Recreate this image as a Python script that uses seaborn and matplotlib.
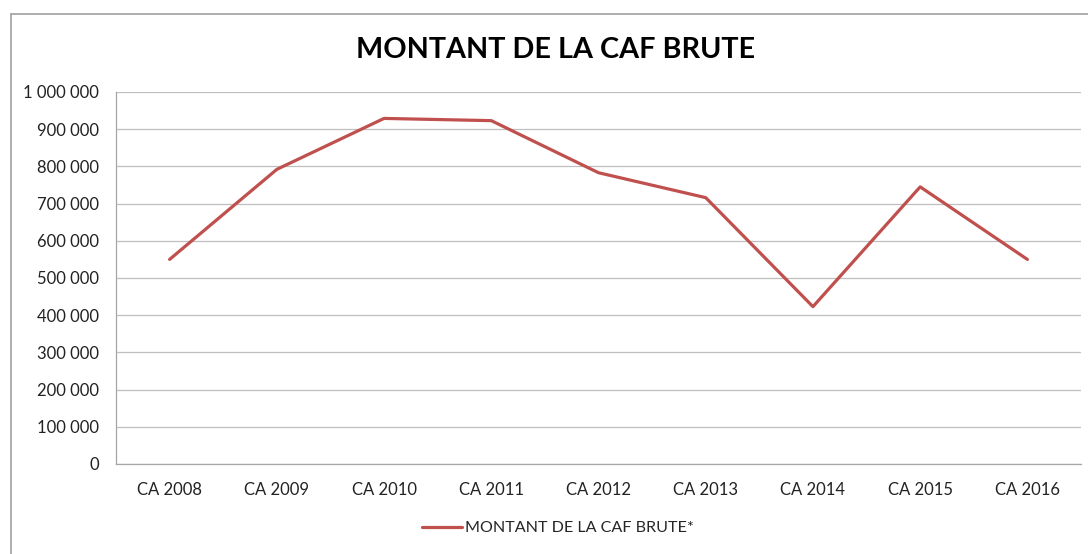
import matplotlib
matplotlib.use("Agg")
import matplotlib.pyplot as plt
import seaborn as sns
import pandas as pd
from matplotlib.ticker import FuncFormatter, MultipleLocator
from matplotlib.lines import Line2D

categories = ["CA 2008", "CA 2009", "CA 2010", "CA 2011", "CA 2012",
              "CA 2013", "CA 2014", "CA 2015", "CA 2016"]
caf_brute = [550000, 792000, 929000, 923000, 783000, 716000, 423000, 745000, 550000]
series_name = "MONTANT DE LA CAF BRUTE*"
title = "MONTANT DE LA CAF BRUTE"

sns.set_theme(style="white")
plt.rcParams["font.family"] = ["Lato", "DejaVu Sans"]

df = pd.DataFrame({"cat": categories, "val": caf_brute})

W, H = 1088, 554
fig = plt.figure(figsize=(W / 100, H / 100), dpi=100)
fig.patch.set_facecolor("white")
ax = fig.add_axes([116 / W, 1 - 464 / H, (1081 - 116) / W, (464 - 92) / H])

line_color = "#C0504D"
sns.lineplot(data=df, x="cat", y="val", ax=ax, color=line_color,
             linewidth=2.3, sort=False, legend=False)

ax.set_xlim(-0.5, len(categories) - 0.5)
ax.set_ylim(0, 1000000)
ax.yaxis.set_major_locator(MultipleLocator(100000))
ax.yaxis.set_major_formatter(FuncFormatter(lambda v, p: f"{int(round(v)):,}".replace(",", " ")))
ax.grid(axis="y", color="#BFBFBF", linewidth=0.9)
ax.grid(axis="x", visible=False)
ax.set_axisbelow(True)
ax.set_xlabel("")
ax.set_ylabel("")
for s in ["top", "right"]:
    ax.spines[s].set_visible(False)
for s in ["left", "bottom"]:
    ax.spines[s].set_visible(True)
    ax.spines[s].set_color("#A6A6A6")
    ax.spines[s].set_linewidth(0.9)
ax.tick_params(axis="y", length=0, pad=12, labelsize=12, labelcolor="#222222")
ax.tick_params(axis="x", length=0, pad=13, labelsize=12, labelcolor="#222222")

fig.text(556 / W, 1 - 50 / H, title, ha="center", va="center",
         fontsize=20.7, fontweight="bold", color="black")

# outer chart border (top and left visible)
fig.add_artist(Line2D([11 / W, 1.0], [1 - 14 / H, 1 - 14 / H], transform=fig.transFigure,
                      color="#A0A0A0", linewidth=1.2))
fig.add_artist(Line2D([11 / W, 11 / W], [0.0, 1 - 14 / H], transform=fig.transFigure,
                      color="#A0A0A0", linewidth=1.2))

handle = Line2D([], [], color=line_color, linewidth=2.3)
fig.legend([handle], [series_name], loc="center left",
           bbox_to_anchor=(422 / W, 1 - 528 / H), bbox_transform=fig.transFigure,
           frameon=False, borderpad=0, borderaxespad=0, handlelength=2.5,
           handletextpad=0.15, fontsize=11.6)

fig.savefig("out.png", dpi=100, facecolor="white")
